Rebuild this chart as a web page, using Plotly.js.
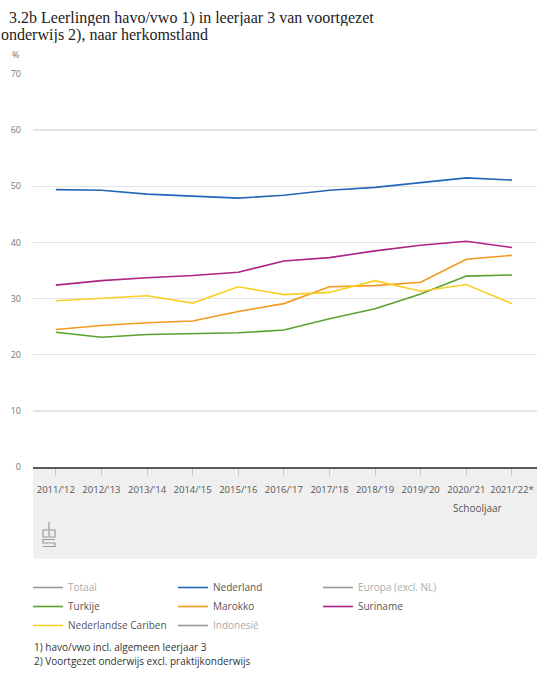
<!DOCTYPE html>
<html>
<head>
<meta charset="utf-8">
<script src="https://cdn.plot.ly/plotly-3.0.1.min.js"></script>
<style>html,body{margin:0;padding:0;background:#fff;}#chart{width:544px;height:680px;}</style>
</head>
<body>
<div id="chart"></div>
<script>
const schooljaren = ["2011/'12","2012/'13","2013/'14","2014/'15","2015/'16","2016/'17","2017/'18","2018/'19","2019/'20","2020/'21","2021/'22*"];
const nederland = [49.4, 49.3, 48.6, 48.3, 47.9, 48.4, 49.3, 49.8, 50.7, 51.5, 51.1];
const turkije   = [24.0, 23.1, 23.6, 23.8, 23.9, 24.4, 26.4, 28.2, 30.8, 34.0, 34.2];
const marokko   = [24.5, 25.2, 25.7, 26.0, 27.7, 29.1, 32.1, 32.3, 32.9, 37.0, 37.7];
const suriname  = [32.4, 33.2, 33.7, 34.1, 34.7, 36.7, 37.3, 38.5, 39.5, 40.2, 39.1];
const cariben   = [29.6, 30.1, 30.5, 29.2, 32.1, 30.7, 31.1, 33.2, 31.3, 32.5, 29.1];
const noData    = [null, null, null, null, null, null, null, null, null, null, null];
const yTicks = [0, 10, 20, 30, 40, 50, 60, 70];
const titleLines = ['\u00a0\u00a03.2b Leerlingen havo/vwo 1) in leerjaar 3 van voortgezet', 'onderwijs 2), naar herkomstland'];

const sans = "Open Sans, Noto Sans, sans-serif";
function line(name, y, color) {
  return {x: schooljaren, y: y, name: name, type: 'scatter', mode: 'lines',
          line: {color: color, width: 1.6}, hoverinfo: 'skip'};
}
function off(name) {
  return {x: schooljaren, y: noData, name: name, type: 'scatter', mode: 'lines',
          visible: 'legendonly', showlegend: true, line: {color: '#333', width: 1.6}};
}
const traces = [
  off('Totaal'),
  line('Nederland', nederland, '#2467b8'),
  off('Europa (excl. NL)'),
  line('Turkije', turkije, '#5aa12e'),
  line('Marokko', marokko, '#f29a1f'),
  line('Suriname', suriname, '#ae2386'),
  line('Nederlandse Cariben', cariben, '#f8cf24'),
  off('Indonesië')
];

const L = 33, T = 74, W = 504, H = 393;
function px(x) { return (x - L) / W; }
function py(y) { return (T + H - y) / H; }

const titleFont = {family: 'Liberation Serif, serif', size: 16, color: '#222'};
const layout = {
  width: 544, height: 680,
  margin: {l: L, r: 544 - L - W, t: T, b: 680 - T - H},
  paper_bgcolor: '#fff', plot_bgcolor: 'rgba(0,0,0,0)',
  font: {family: sans, color: '#555', size: 10},
  showlegend: true,
  xaxis: {
    type: 'category', range: [-0.5, 10.55], fixedrange: true,
    showgrid: false, zeroline: false,
    showline: true, linecolor: '#5a5a5a', linewidth: 2,
    ticks: 'outside', ticklen: 7, tickcolor: '#c8c8c8', tickwidth: 1,
    tickfont: {size: 9.5, color: '#555'}, ticklabelstandoff: 6
  },
  yaxis: {
    range: [0, 70], tickvals: yTicks, ticktext: yTicks.map(String), fixedrange: true,
    showgrid: true, gridcolor: '#e4e4e4', gridwidth: 1.5, zeroline: false,
    showline: false, ticks: '', tickfont: {size: 9, color: '#777'},
    ticklabelstandoff: 11
  },
  legend: {
    orientation: 'h', x: px(28), xanchor: 'left', y: py(573), yanchor: 'top',
    entrywidth: 100, entrywidthmode: 'pixels', itemwidth: 30,
    font: {size: 10, color: '#555', family: sans},
    tracegroupgap: 0, bgcolor: 'rgba(0,0,0,0)', itemclick: false, itemdoubleclick: false
  },
  shapes: [
    {type: 'path', xref: 'paper', yref: 'paper', layer: 'below',
     path: (function(){
       const x0 = 0, x1 = px(537), y0 = py(559), y1 = 0;
       const rx = 5 / W, ry = 5 / H;
       return `M${x0},${y1} L${x1},${y1} L${x1},${y0+ry} Q${x1},${y0} ${x1-rx},${y0} L${x0+rx},${y0} Q${x0},${y0} ${x0},${y0+ry} Z`;
     })(),
     fillcolor: '#efefef', line: {width: 0}},
    // CBS logo (pixel-sized, anchored at plot bottom-left)
    {type: 'path', xref: 'paper', yref: 'paper', xsizemode: 'pixel', ysizemode: 'pixel',
     xanchor: 0, yanchor: 0, layer: 'above',
     path: 'M15,-63 L10,-63 L10,-70 L15,-70 M16,-55 L16,-70 L22,-70 L22,-63 L16,-63 M22,-72.5 L10,-72.5 L10,-76 L22,-76 L22,-79.5 L10,-79.5',
     line: {color: '#9a9a9a', width: 1.2}}
  ],
  annotations: [
    {text: titleLines[0], xref: 'paper', yref: 'paper', x: px(0), y: py(18), xanchor: 'left', yanchor: 'middle',
     height: 16, borderpad: 0, showarrow: false, font: titleFont},
    {text: titleLines[1], xref: 'paper', yref: 'paper', x: px(0), y: py(35), xanchor: 'left', yanchor: 'middle',
     height: 16, borderpad: 0, showarrow: false, font: titleFont},
    {text: '%', xref: 'paper', yref: 'paper', x: px(10), y: py(55), xanchor: 'left', yanchor: 'middle',
     showarrow: false, font: {size: 9, color: '#777'}},
    {text: 'Schooljaar', xref: 'paper', yref: 'paper', x: px(504), y: py(508), xanchor: 'right', yanchor: 'middle',
     showarrow: false, font: {size: 10, color: '#555'}},
    {text: '1) havo/vwo incl. algemeen leerjaar 3', xref: 'paper', yref: 'paper', x: px(32), y: py(647),
     xanchor: 'left', yanchor: 'middle', showarrow: false, font: {size: 10, color: '#333'}},
    {text: '2) Voortgezet onderwijs excl. praktijkonderwijs', xref: 'paper', yref: 'paper', x: px(32), y: py(661),
     xanchor: 'left', yanchor: 'middle', showarrow: false, font: {size: 10, color: '#333'}}
  ]
};

Plotly.newPlot('chart', traces, layout, {displayModeBar: false, staticPlot: true});
</script>
</body>
</html>
